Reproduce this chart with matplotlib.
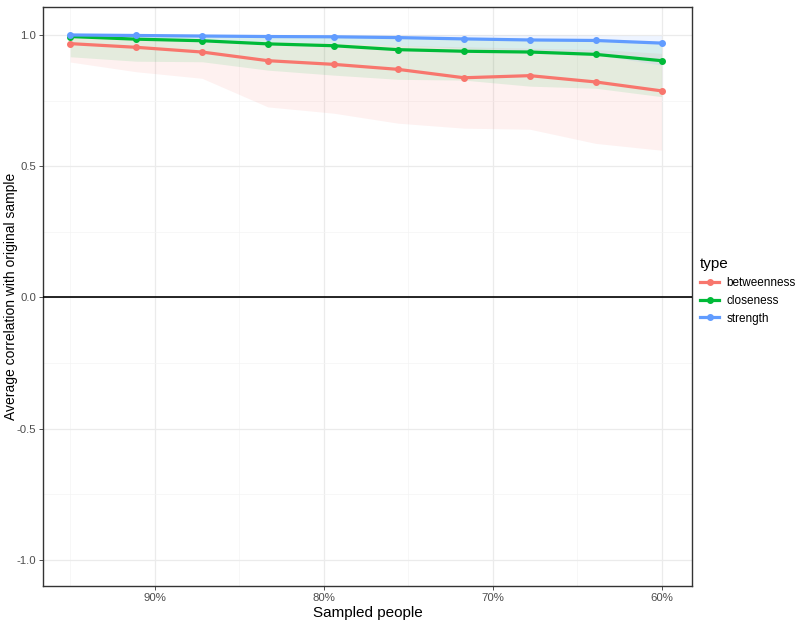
import matplotlib
matplotlib.use("Agg")
import matplotlib.pyplot as plt
from matplotlib.lines import Line2D

plt.rcParams['font.family'] = ['Liberation Sans', 'DejaVu Sans']

sampled = [95.0, 91.1, 87.2, 83.3, 79.4, 75.6, 71.7, 67.8, 63.9, 60.0]

betweenness = [0.967, 0.953, 0.935, 0.902, 0.888, 0.869, 0.837, 0.845, 0.821, 0.787]
betweenness_lo = [0.897, 0.860, 0.835, 0.726, 0.702, 0.664, 0.645, 0.641, 0.587, 0.561]
betweenness_hi = [0.990, 0.985, 0.980, 0.975, 0.970, 0.960, 0.955, 0.950, 0.945, 0.930]

closeness = [0.994, 0.984, 0.978, 0.966, 0.959, 0.944, 0.938, 0.935, 0.926, 0.902]
closeness_lo = [0.917, 0.900, 0.898, 0.866, 0.847, 0.831, 0.828, 0.805, 0.797, 0.765]
closeness_hi = [1.000, 0.998, 0.997, 0.995, 0.993, 0.990, 0.988, 0.985, 0.983, 0.975]

strength = [1.000, 0.998, 0.996, 0.994, 0.993, 0.990, 0.985, 0.981, 0.979, 0.969]
strength_lo = [0.990, 0.985, 0.980, 0.975, 0.970, 0.960, 0.950, 0.940, 0.925, 0.885]
strength_hi = [1.000, 1.000, 1.000, 1.000, 1.000, 1.000, 1.000, 1.000, 0.999, 0.998]

types = ["betweenness", "closeness", "strength"]
colors = ["#F8766D", "#00BA38", "#619CFF"]

x_ticks = [90, 80, 70, 60]
x_ticklabels = ["90%", "80%", "70%", "60%"]
y_ticks = [1.0, 0.5, 0.0, -0.5, -1.0]
y_ticklabels = ["1.0", "0.5", "0.0", "-0.5", "-1.0"]

series = [
    (betweenness, betweenness_lo, betweenness_hi),
    (closeness, closeness_lo, closeness_hi),
    (strength, strength_lo, strength_hi),
]

fig = plt.figure(figsize=(8, 6.25), dpi=100)
ax = fig.add_axes([0.054, 0.062, 0.811, 0.927])

for (vals, lo, hi), c in zip(series, colors):
    ax.fill_between(sampled, lo, hi, color=c, alpha=0.1, linewidth=0, zorder=2)
for (vals, lo, hi), c in zip(series, colors):
    ax.plot(sampled, vals, color=c, linewidth=2.3, zorder=4)
    ax.plot(sampled, vals, 'o', color=c, markersize=4, zorder=5)

ax.axhline(0, color="black", linewidth=1.2, zorder=3)

ax.set_xlim(96.6, 58.2)
ax.set_ylim(-1.1, 1.107)
ax.set_xticks(x_ticks)
ax.set_xticklabels(x_ticklabels)
ax.set_yticks(y_ticks)
ax.set_yticklabels(y_ticklabels)
ax.set_xticks([95, 85, 75, 65], minor=True)
ax.set_yticks([0.75, 0.25, -0.25, -0.75], minor=True)

ax.grid(True, which="major", color="#EBEBEB", linewidth=0.9, zorder=0)
ax.grid(True, which="minor", color="#F4F4F4", linewidth=0.5, zorder=0)
ax.set_axisbelow(True)
ax.tick_params(which="major", length=3, width=0.6, color="#333333",
               labelsize=8.2, labelcolor="#4D4D4D", pad=2)
ax.tick_params(which="minor", length=0)
for s in ax.spines.values():
    s.set_color("#333333")
    s.set_linewidth(1.0)

ax.set_xlabel("Sampled people", fontsize=11, labelpad=2)
ax.set_ylabel("Average correlation with original sample", fontsize=10)
ax.yaxis.set_label_coords(-0.039, 0.5)

handles = [Line2D([0], [0], color=c, linewidth=2.3, marker='o', markersize=4) for c in colors]
leg = fig.legend(handles, types, title="type", loc="upper left",
                 bbox_to_anchor=(0.862, 0.606), frameon=False, fontsize=8.5,
                 title_fontsize=11, handlelength=1.6, handletextpad=0.6,
                 labelspacing=0.5, alignment="left")

fig.savefig("out.png", dpi=100)
